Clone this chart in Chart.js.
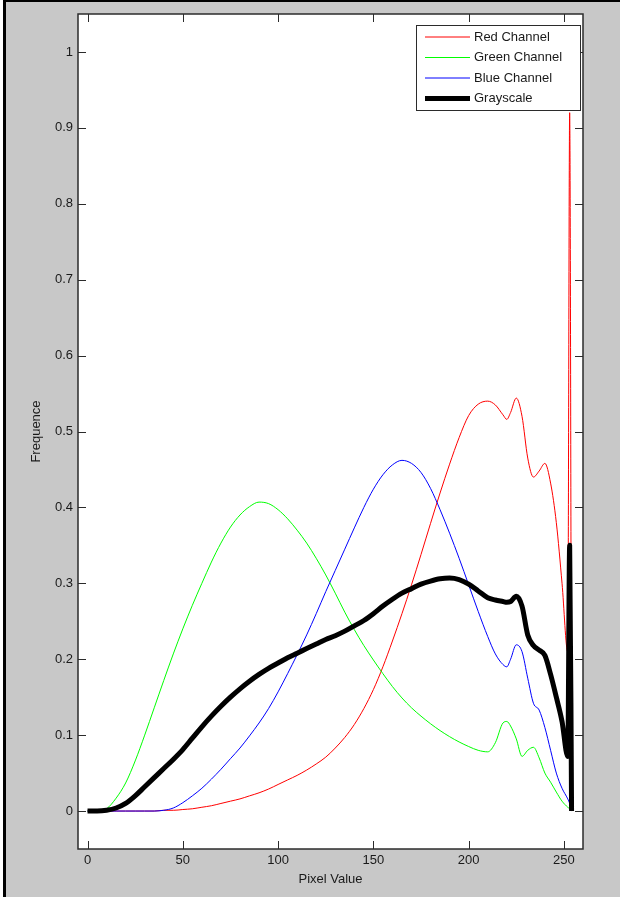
<!DOCTYPE html>
<html>
<head>
<meta charset="utf-8">
<script src="https://cdn.jsdelivr.net/npm/chart.js@4"></script>
<style>
  html, body { margin: 0; padding: 0; background: #fff; }
  canvas { display: block; }
</style>
</head>
<body>
<canvas id="histChart" width="620" height="897"></canvas>
<script>
// histogram sample positions (pixel value) and the four normalised curves
const pixelValues = [0, 5, 10, 15, 20, 25, 30, 35, 40, 45, 50, 55, 60, 65, 70, 75, 80, 85, 90, 95,
  100, 105, 110, 115, 120, 125, 130, 135, 140, 145, 150, 155, 160, 165, 170, 175, 180, 185, 190, 195,
  200, 205, 210, 214, 218, 220, 222, 225, 228, 231, 234, 237, 240, 243, 246, 249, 252, 253, 254];

const redChannel = [0, 0, 0, 0, 0, 0, 0, 0, 0.001, 0.001, 0.002, 0.003, 0.005, 0.007, 0.01, 0.013, 0.016, 0.02, 0.024, 0.029,
  0.035, 0.041, 0.047, 0.054, 0.062, 0.071, 0.083, 0.097, 0.114, 0.135, 0.16, 0.19, 0.224, 0.26, 0.298, 0.338, 0.379, 0.419, 0.457, 0.492,
  0.521, 0.536, 0.54, 0.535, 0.522, 0.516, 0.525, 0.544, 0.52, 0.465, 0.44, 0.448, 0.458, 0.432, 0.38, 0.3, 0.21, 0.92, 0];

const greenChannel = [0, 0, 0.003, 0.017, 0.037, 0.066, 0.1, 0.136, 0.172, 0.207, 0.24, 0.271, 0.3, 0.328, 0.353, 0.374, 0.39, 0.401, 0.407, 0.405,
  0.397, 0.385, 0.37, 0.353, 0.333, 0.311, 0.287, 0.262, 0.239, 0.218, 0.199, 0.181, 0.164, 0.149, 0.136, 0.125, 0.115, 0.106, 0.098, 0.091,
  0.085, 0.08, 0.078, 0.09, 0.116, 0.118, 0.112, 0.095, 0.072, 0.08, 0.084, 0.07, 0.05, 0.038, 0.025, 0.013, 0.005, 0.003, 0];

const blueChannel = [0, 0, 0, 0, 0, 0, 0, 0, 0.001, 0.004, 0.011, 0.02, 0.03, 0.042, 0.055, 0.069, 0.083, 0.099, 0.116, 0.135,
  0.157, 0.181, 0.206, 0.232, 0.26, 0.289, 0.317, 0.345, 0.373, 0.4, 0.424, 0.443, 0.456, 0.462, 0.458, 0.446, 0.425, 0.397, 0.366, 0.333,
  0.298, 0.263, 0.23, 0.207, 0.193, 0.19, 0.2, 0.219, 0.21, 0.175, 0.142, 0.133, 0.11, 0.08, 0.05, 0.03, 0.016, 0.01, 0];

const grayscale = [0, 0, 0.001, 0.004, 0.01, 0.02, 0.032, 0.044, 0.056, 0.068, 0.081, 0.096, 0.111, 0.125, 0.138, 0.15, 0.161, 0.171, 0.18, 0.188,
  0.195, 0.202, 0.208, 0.214, 0.22, 0.226, 0.231, 0.237, 0.244, 0.251, 0.26, 0.27, 0.279, 0.287, 0.293, 0.299, 0.303, 0.306, 0.307, 0.305,
  0.299, 0.29, 0.281, 0.278, 0.276, 0.275, 0.276, 0.283, 0.27, 0.232, 0.218, 0.212, 0.205, 0.18, 0.15, 0.118, 0.072, 0.35, 0];

const xTicks = [0, 50, 100, 150, 200, 250];
const yTicks = [0, 0.1, 0.2, 0.3, 0.4, 0.5, 0.6, 0.7, 0.8, 0.9, 1];

const seriesNames = ['Red Channel', 'Green Channel', 'Blue Channel', 'Grayscale'];

const pts = vals => pixelValues.map((x, i) => ({ x: x, y: vals[i] }));

// matlab-ish figure: gray surround, white axes, boxed with inward ticks
const figureLook = {
  id: 'figureLook',
  beforeDraw(chart) {
    const c = chart.ctx, a = chart.chartArea;
    c.save();
    c.fillStyle = '#fff';
    c.fillRect(0, 0, chart.width, chart.height);
    c.fillStyle = '#c8c8c8';
    c.fillRect(6, 2, chart.width - 6, chart.height - 2);
    c.fillStyle = '#000';
    c.fillRect(3, 0, 3, chart.height);
    c.fillRect(3, 0, chart.width - 3, 2);
    c.fillStyle = '#fff';
    c.fillRect(a.left, a.top, a.right - a.left, a.bottom - a.top);
    c.restore();
  },
  afterDatasetsDraw(chart) {
    const c = chart.ctx, a = chart.chartArea;
    const sx = chart.scales.x, sy = chart.scales.y;
    c.save();
    c.strokeStyle = '#2b2b2b';
    c.lineWidth = 1;
    c.beginPath();
    xTicks.forEach(v => {
      const px = Math.round(sx.getPixelForValue(v)) + 0.5;
      c.moveTo(px, a.bottom); c.lineTo(px, a.bottom - 8);
      c.moveTo(px, a.top); c.lineTo(px, a.top + 8);
    });
    yTicks.forEach(v => {
      const py = Math.round(sy.getPixelForValue(v)) + 0.5;
      c.moveTo(a.left, py); c.lineTo(a.left + 8, py);
      c.moveTo(a.right, py); c.lineTo(a.right - 8, py);
    });
    c.stroke();
    c.lineWidth = 1.5;
    c.strokeRect(a.left, a.top, a.right - a.left, a.bottom - a.top);
    c.restore();
  },
  afterDraw(chart) {
    // legend box in the top right corner
    const c = chart.ctx;
    const bx = 416, by = 25, bw = 164, bh = 85;
    c.save();
    c.fillStyle = '#fff';
    c.fillRect(bx, by, bw, bh);
    c.strokeStyle = '#2b2b2b';
    c.lineWidth = 1;
    c.strokeRect(bx + 0.5, by + 0.5, bw, bh);
    c.font = '13px "Liberation Sans", Arial, sans-serif';
    c.textBaseline = 'middle';
    chart.data.datasets.forEach((ds, i) => {
      const y = by + 12 + i * 20.5;
      c.strokeStyle = ds.borderColor;
      c.lineWidth = ds.borderWidth;
      c.beginPath();
      c.moveTo(bx + 9, y); c.lineTo(bx + 54, y);
      c.stroke();
      c.fillStyle = '#1a1a1a';
      c.fillText(ds.label, bx + 58, y);
    });
    c.restore();
  }
};

const tickFont = { family: '"Liberation Sans", Arial, sans-serif', size: 13 };

new Chart(document.getElementById('histChart'), {
  type: 'line',
  data: {
    datasets: [
      { label: seriesNames[0], data: pts(redChannel), borderColor: '#ff0000', borderWidth: 1, order: 3 },
      { label: seriesNames[1], data: pts(greenChannel), borderColor: '#00ff00', borderWidth: 1, order: 2 },
      { label: seriesNames[2], data: pts(blueChannel), borderColor: '#0000ff', borderWidth: 1, order: 1 },
      { label: seriesNames[3], data: pts(grayscale), borderColor: '#000000', borderWidth: 5, order: 0 }
    ]
  },
  options: {
    responsive: false,
    devicePixelRatio: 1,
    animation: false,
    layout: { padding: { top: 14, right: 37, left: 0, bottom: 0 } },
    elements: {
      point: { radius: 0 },
      line: { cubicInterpolationMode: 'monotone', fill: false, borderJoinStyle: 'round' }
    },
    plugins: {
      legend: { display: false },
      tooltip: { enabled: false }
    },
    scales: {
      x: {
        type: 'linear',
        min: -5,
        max: 260,
        grid: { display: false, drawTicks: false },
        border: { display: false },
        afterBuildTicks: s => { s.ticks = xTicks.map(v => ({ value: v })); },
        afterFit: s => { s.height = 48; },
        ticks: { color: '#1a1a1a', font: tickFont, padding: 4, maxRotation: 0 },
        title: { display: true, text: 'Pixel Value', color: '#1a1a1a', font: tickFont, padding: { top: 0, bottom: 10 } }
      },
      y: {
        type: 'linear',
        min: -0.05,
        max: 1.05,
        grid: { display: false, drawTicks: false },
        border: { display: false },
        afterBuildTicks: s => { s.ticks = yTicks.map(v => ({ value: v })); },
        afterFit: s => { s.width = 78; },
        ticks: {
          color: '#1a1a1a', font: tickFont, padding: 5,
          callback: v => String(Math.round(v * 10) / 10)
        },
        title: { display: true, text: 'Frequence', color: '#1a1a1a', font: tickFont, padding: { top: 29, bottom: 0 } }
      }
    }
  },
  plugins: [figureLook]
});
</script>
</body>
</html>
